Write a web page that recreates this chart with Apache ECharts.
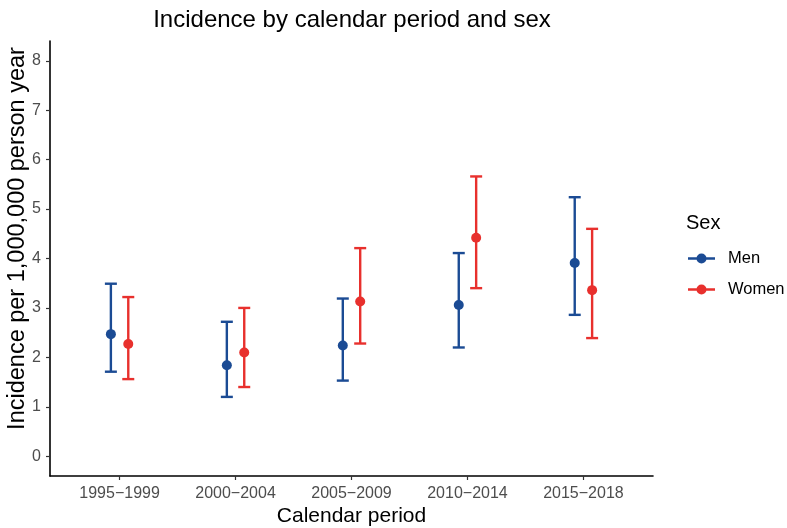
<!DOCTYPE html>
<html>
<head>
<meta charset="utf-8">
<script src="https://cdn.jsdelivr.net/npm/echarts@6/dist/echarts.min.js"></script>
<style>html,body{margin:0;padding:0;background:#fff}#c{width:787px;height:528px}</style>
</head>
<body>
<div id="c"></div>
<script>
const categories = ['1995\u22121999', '2000\u22122004', '2005\u22122009', '2010\u22122014', '2015\u22122018'];
const yTicks = [0, 1, 2, 3, 4, 5, 6, 7, 8];
const menEst   = [2.47, 1.84, 2.24, 3.06, 3.91];
const menLow   = [1.71, 1.20, 1.53, 2.20, 2.86];
const menHigh  = [3.49, 2.72, 3.19, 4.11, 5.24];
const womenEst  = [2.27, 2.10, 3.13, 4.42, 3.36];
const womenLow  = [1.56, 1.40, 2.28, 3.40, 2.39];
const womenHigh = [3.22, 3.00, 4.21, 5.66, 4.60];

const BLUE = '#1B4B94';
const RED = '#E8302D';
const DODGE = 0.075;
const FONT = 'Liberation Sans, Arial, sans-serif';

function buildData(est, low, high, offset) {
  return est.map((v, i) => [i + 1 + offset, v, low[i], high[i]]);
}

function makeRender(color) {
  return function (params, api) {
    const x = api.value(0);
    const pMid = api.coord([x, api.value(1)]);
    const pLow = api.coord([x, api.value(2)]);
    const pHigh = api.coord([x, api.value(3)]);
    const cap = 6;
    const ls = { stroke: color, lineWidth: 2.4 };
    return {
      type: 'group',
      children: [
        { type: 'line', shape: { x1: pLow[0], y1: pLow[1], x2: pHigh[0], y2: pHigh[1] }, style: ls },
        { type: 'line', shape: { x1: pLow[0] - cap, y1: pLow[1], x2: pLow[0] + cap, y2: pLow[1] }, style: ls },
        { type: 'line', shape: { x1: pHigh[0] - cap, y1: pHigh[1], x2: pHigh[0] + cap, y2: pHigh[1] }, style: ls },
        { type: 'circle', shape: { cx: pMid[0], cy: pMid[1], r: 5 }, style: { fill: color } }
      ]
    };
  };
}

const legendIcon = 'path://M0,3.8h27v2.4h-27z M13.5,0a5,5 0 1,1 -0.001,0z';

const chart = echarts.init(document.getElementById('c'), null, { renderer: 'canvas' });
chart.setOption({
  animation: false,
  backgroundColor: '#fff',
  title: [
    { text: 'Incidence by calendar period and sex', left: 347, textAlign: 'center', top: 3,
      textStyle: { fontFamily: FONT, fontSize: 24, fontWeight: 'normal', color: '#000' } },
    { text: 'Sex', left: 681, top: 208,
      textStyle: { fontFamily: FONT, fontSize: 20, fontWeight: 'normal', color: '#000' } }
  ],
  legend: {
    orient: 'vertical', left: 688, top: 250, padding: 0, itemGap: 14, itemWidth: 27, itemHeight: 10,
    icon: legendIcon,
    textStyle: { fontFamily: FONT, fontSize: 16.5, color: '#000', padding: [0, 0, 0, 8] },
    data: [
      { name: 'Men', itemStyle: { color: BLUE } },
      { name: 'Women', itemStyle: { color: RED } }
    ]
  },
  grid: { left: 50, right: 134, top: 41, bottom: 52, containLabel: false, outerBoundsMode: 'none' },
  xAxis: {
    type: 'value', min: 0.4, max: 5.6,
    name: 'Calendar period', nameLocation: 'middle', nameGap: 30, nameMoveOverlap: false,
    nameTextStyle: { fontFamily: FONT, fontSize: 21, color: '#000' },
    axisLine: { show: true, onZero: false, lineStyle: { color: '#000', width: 1.6 } },
    axisTick: { show: true, length: 4, lineStyle: { color: '#333', width: 1.2 }, customValues: [1, 2, 3, 4, 5] },
    axisLabel: { customValues: [1, 2, 3, 4, 5], formatter: v => categories[Math.round(v) - 1], margin: 10,
      fontFamily: FONT, fontSize: 16, color: '#4D4D4D' },
    splitLine: { show: false }
  },
  yAxis: {
    type: 'value', min: -0.4, max: 8.4,
    name: 'Incidence per 1,000,000 person year', nameLocation: 'middle', nameGap: 20, nameMoveOverlap: false,
    nameTextStyle: { fontFamily: FONT, fontSize: 23.5, color: '#000', padding: [0, 0, 0, 40] },
    axisLine: { show: true, onZero: false, lineStyle: { color: '#000', width: 1.6 } },
    axisTick: { show: true, length: 4, lineStyle: { color: '#333', width: 1.2 }, customValues: yTicks },
    axisLabel: { customValues: yTicks, margin: 9,
      fontFamily: FONT, fontSize: 16, color: '#4D4D4D' },
    splitLine: { show: false }
  },
  series: [
    { name: 'Men', type: 'custom', itemStyle: { color: BLUE }, renderItem: makeRender(BLUE),
      encode: { x: 0, y: [1, 2, 3] }, data: buildData(menEst, menLow, menHigh, -DODGE) },
    { name: 'Women', type: 'custom', itemStyle: { color: RED }, renderItem: makeRender(RED),
      encode: { x: 0, y: [1, 2, 3] }, data: buildData(womenEst, womenLow, womenHigh, DODGE) }
  ]
});
</script>
</body>
</html>
